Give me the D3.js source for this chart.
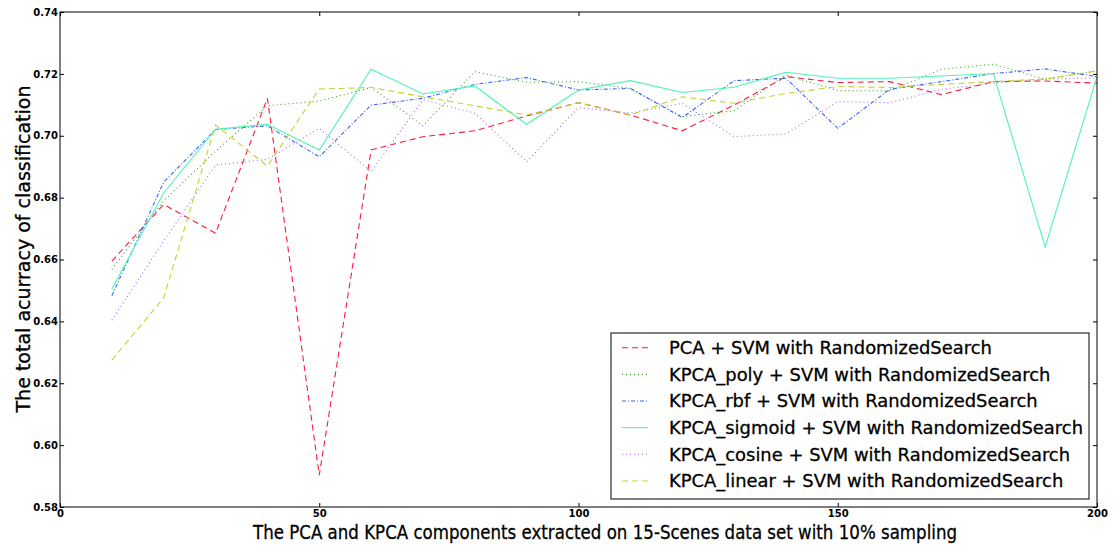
<!DOCTYPE html>
<html>
<head>
<meta charset="utf-8">
<script src="https://cdn.jsdelivr.net/npm/d3@7"></script>
<style>
  body { margin: 0; background: #fff; }
  text { font-family: "DejaVu Sans", sans-serif; }
  .tick text { font-weight: bold; font-size: 10px; fill: #000; }
  .title, .legend-label { stroke: #000; stroke-width: 0.3px; }
</style>
</head>
<body>
<div id="graph"></div>
<script>

const components = [10, 20, 30, 40, 50, 60, 70, 80, 90, 100, 110, 120, 130, 140, 150, 160, 170, 180, 190, 200];

const pcaSvm     = [0.6595, 0.6778, 0.6685, 0.7121, 0.5903, 0.6954, 0.6997, 0.7016, 0.7064, 0.7107, 0.7067, 0.7016, 0.7099, 0.7191, 0.7172, 0.7175, 0.7133, 0.7175, 0.7177, 0.7170];
const polySvm    = [0.6568, 0.6790, 0.6950, 0.7097, 0.7112, 0.7156, 0.7032, 0.7207, 0.7173, 0.7175, 0.7153, 0.7062, 0.7081, 0.7196, 0.7146, 0.7145, 0.7215, 0.7231, 0.7183, 0.7209];
const rbfSvm     = [0.6483, 0.6850, 0.7020, 0.7032, 0.6932, 0.7099, 0.7121, 0.7166, 0.7188, 0.7148, 0.7153, 0.7059, 0.7178, 0.7186, 0.7024, 0.7150, 0.7175, 0.7201, 0.7216, 0.7191];
const sigmoidSvm = [0.6505, 0.6815, 0.7021, 0.7037, 0.6954, 0.7215, 0.7135, 0.7161, 0.7037, 0.7148, 0.7178, 0.7140, 0.7157, 0.7205, 0.7186, 0.7186, 0.7193, 0.7201, 0.6641, 0.7191];
const cosineSvm  = [0.6404, 0.6660, 0.6905, 0.6924, 0.7024, 0.6884, 0.7116, 0.7073, 0.6916, 0.7091, 0.7073, 0.7105, 0.6997, 0.7006, 0.7110, 0.7107, 0.7150, 0.7170, 0.7183, 0.7187];
const linearSvm  = [0.6275, 0.6476, 0.7035, 0.6902, 0.7151, 0.7156, 0.7126, 0.7097, 0.7067, 0.7107, 0.7067, 0.7126, 0.7105, 0.7137, 0.7159, 0.7156, 0.7166, 0.7175, 0.7183, 0.7210];

const seriesNames = [
  "PCA + SVM with RandomizedSearch",
  "KPCA_poly + SVM with RandomizedSearch",
  "KPCA_rbf + SVM with RandomizedSearch",
  "KPCA_sigmoid + SVM with RandomizedSearch",
  "KPCA_cosine + SVM with RandomizedSearch",
  "KPCA_linear + SVM with RandomizedSearch"
];

const xTicks = [0, 50, 100, 150, 200];
const yTicks = [0.58, 0.60, 0.62, 0.64, 0.66, 0.68, 0.70, 0.72, 0.74];

const xTitle = "The PCA and KPCA components extracted on 15-Scenes data set with 10% sampling";
const yTitle = "The total acurracy of classification";

// styles per series
const colors = ["#ff1a3c", "#3f9f2a", "#3a66ff", "#4ff5b4", "#a366ff", "#bcd62a"];
const dashes = ["6,4", "1,3", "4,2,1,2", null, "1,3", "6,4"];

const series = [pcaSvm, polySvm, rbfSvm, sigmoidSvm, cosineSvm, linearSvm].map(function(vals, i) {
  return {
    name: seriesNames[i],
    color: colors[i],
    dash: dashes[i],
    values: vals.map(function(v, j) { return { comp: components[j], acc: v }; })
  };
});

let width = 1114, height = 546;
let margin = {top: 12, right: 17, bottom: 39, left: 60};
let w = width - margin.left - margin.right,
    h = height - margin.top - margin.bottom;

let svg = d3.select("#graph")
  .append("svg")
  .attr("width", width)
  .attr("height", height);

let x = d3.scaleLinear().domain([0, 200]).range([0, w]),
    y = d3.scaleLinear().domain([0.58, 0.74]).range([h, 0]);

let g = svg.append("g")
  .attr("transform", "translate(" + margin.left + "," + margin.top + ")");

svg.append("defs").append("clipPath")
  .attr("id", "clip")
  .append("rect")
  .attr("width", w)
  .attr("height", h);

let line = d3.line()
  .x(function(d) { return x(d.comp); })
  .y(function(d) { return y(d.acc); });

g.append("g")
  .attr("clip-path", "url(#clip)")
  .selectAll("path")
  .data(series)
  .enter().append("path")
  .attr("d", function(d) { return line(d.values); })
  .attr("fill", "none")
  .attr("stroke", function(d) { return d.color; })
  .attr("stroke-width", 1.1)
  .attr("stroke-dasharray", function(d) { return d.dash; });

// axes, ticks pointing inward on all four sides
let bottomAxis = d3.axisBottom(x).tickValues(xTicks).tickFormat(d3.format("d")).tickSizeInner(-4).tickSizeOuter(0).tickPadding(3),
    topAxis = d3.axisTop(x).tickValues(xTicks).tickFormat("").tickSizeInner(-4).tickSizeOuter(0),
    leftAxis = d3.axisLeft(y).tickValues(yTicks).tickFormat(d3.format(".2f")).tickSizeInner(-4).tickSizeOuter(0).tickPadding(2),
    rightAxis = d3.axisRight(y).tickValues(yTicks).tickFormat("").tickSizeInner(-4).tickSizeOuter(0);

g.append("g").attr("transform", "translate(0," + h + ")").call(bottomAxis);
g.append("g").call(topAxis);
g.append("g").call(leftAxis);
g.append("g").attr("transform", "translate(" + w + ",0)").call(rightAxis);

g.selectAll(".domain").remove();
g.selectAll(".tick line").attr("stroke", "#000");

g.append("rect")
  .attr("width", w)
  .attr("height", h)
  .attr("fill", "none")
  .attr("stroke", "#000")
  .attr("stroke-width", 1);

// axis titles: reference glyphs are tall but narrow, so squeeze to the measured span
svg.append("text")
  .attr("class", "title")
  .attr("x", 605)
  .attr("y", 539)
  .attr("text-anchor", "middle")
  .attr("font-size", 19.5)
  .attr("textLength", 704)
  .attr("lengthAdjust", "spacingAndGlyphs")
  .text(xTitle);

svg.append("text")
  .attr("class", "title")
  .attr("transform", "translate(30,249) rotate(-90)")
  .attr("text-anchor", "middle")
  .attr("font-size", 19.5)
  .attr("textLength", 327)
  .attr("lengthAdjust", "spacingAndGlyphs")
  .text(yTitle);

// legend
let legend = svg.append("g")
  .attr("transform", "translate(611,333)");

legend.append("rect")
  .attr("width", 478)
  .attr("height", 166)
  .attr("fill", "#fff")
  .attr("stroke", "#000")
  .attr("stroke-width", 1);

let rows = legend.selectAll(".row")
  .data(series)
  .enter().append("g")
  .attr("class", "row")
  .attr("transform", function(d, i) { return "translate(0," + (14.7 + i * 26.65) + ")"; });

rows.append("line")
  .attr("x1", 11)
  .attr("x2", 37)
  .attr("stroke", function(d) { return d.color; })
  .attr("stroke-width", 1.1)
  .attr("stroke-dasharray", function(d) { return d.dash; });

let labels = rows.append("text")
  .attr("class", "legend-label")
  .attr("x", 58)
  .attr("dy", "0.36em")
  .attr("font-size", 18)
  .text(function(d) { return d.name; });

// squeeze legend text so the longest entry matches the reference width
let natural = labels.nodes().map(function(n) { return n.getComputedTextLength(); });
let k = 414 / natural[3];
labels
  .attr("textLength", function(d, i) { return natural[i] * k; })
  .attr("lengthAdjust", "spacingAndGlyphs");

</script>
</body>
</html>
